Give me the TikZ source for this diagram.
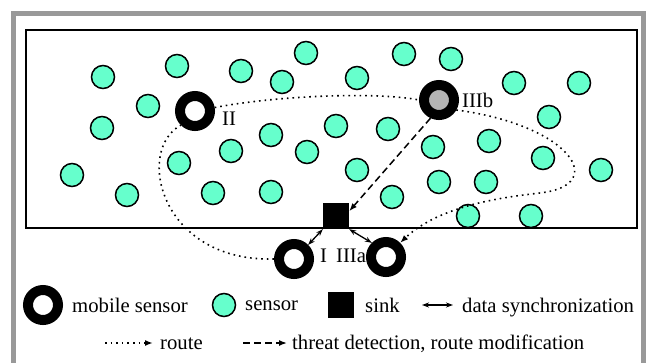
\documentclass[tikz,border=0pt]{standalone}
\usepackage{fontspec}
\setmainfont{Liberation Serif}
\usepackage{tikz}
\usetikzlibrary{arrows.meta,positioning}
\definecolor{sensorgreen}{RGB}{102,255,204}
\definecolor{framegray}{RGB}{153,153,153}
\definecolor{holegray}{RGB}{180,180,180}

\begin{document}
\begin{tikzpicture}[x=1pt,y=-1pt,
    font=\fontsize{20.7}{24}\selectfont,
    sensor/.style={circle,draw,line width=1.5pt,fill=sensorgreen,minimum size=23pt,inner sep=0pt},
    mobile/.style={circle,draw,line width=10pt,fill=white,minimum size=30pt,inner sep=0pt},
    sinkbox/.style={rectangle,fill=black,minimum size=26pt,inner sep=0pt},
    lbl/.style={inner sep=0pt},
    route/.style={line width=1.6pt,dash pattern=on 1.6pt off 4pt,-{Latex[length=8pt,width=6pt]}},
    threat/.style={line width=1.5pt,dash pattern=on 7pt off 4pt,-{Latex[length=8pt,width=6pt]}},
    sync/.style={line width=1.3pt,{Stealth[length=7pt,width=5pt]}-{Stealth[length=7pt,width=5pt]}}]
    \useasboundingbox (0,0) rectangle (646,362);

    % Frames
    \draw[framegray,line width=5pt] (13.5,13.5) rectangle (643.5,380);
    \draw[line width=1.5pt] (26,30) rectangle (637,228);

    % Static sensors
    \foreach \x/\y [count=\i] in {103/77, 177/66, 241/71, 306/53, 282/82, 148/106, 102/128,
        271/135, 231/151, 307/152, 179/163, 72/175, 127/195, 213/193, 271/192, 336/126,
        404/54, 451/59, 357/78, 514/83, 579/83, 549/117, 388/129, 489/141, 433/147,
        543/158, 601/170, 357/170, 439/182, 486/182, 392/197, 468/216, 531/216} {
        \node[sensor] (s\i) at (\x,\y) {};
    }

    % Sink and mobile sensors
    \node[sinkbox] (sink) at (336,216) {};
    \node[mobile] (I) at (294,259) {};
    \node[mobile] (II) at (195,111) {};
    \node[mobile,fill=holegray] (IIIb) at (439,100) {};
    \node[mobile] (IIIa) at (386,257) {};

    \node[lbl,anchor=west] (lI) at (320,256) {I};
    \node[lbl,anchor=west] (lII) at (222,119) {II};
    \node[lbl,right=3pt of IIIb] (lIIIb) {IIIb};
    \node[lbl,anchor=west] (lIIIa) at (336,256) {IIIa};

    % Route
    \draw[route] (I.west) .. controls (160,262) and (135,150) .. (II.south west)
        (II.10) .. controls (280,95) and (380,92) .. (IIIb.west)
        (IIIb.-30) .. controls (570,125) and (610,185) .. (540,193)
        .. controls (505,197) and (440,205) .. (IIIa.45);

    % Threat detection and data synchronization
    \draw[threat] (IIIb.-115) -- (sink.20);
    \draw[sync] (sink.south west) -- (I.north east);
    \draw[sync] (sink.south east) -- (IIIa.north west);

    % Legend
    \node[mobile] (kmobile) at (43,305) {};
    \node[lbl,anchor=base west] (tmobile) at (72,312) {mobile sensor};
    \node[sensor] (ksensor) at (224,305) {};
    \node[lbl,anchor=base west] (tsensor) at (245,310) {sensor};
    \node[sinkbox] (ksink) at (341,305) {};
    \node[lbl,anchor=base west] (tsink) at (365,312) {sink};
    \coordinate (ka) at (422,305);
    \coordinate (kb) at (453,305);
    \draw[sync] (ka) -- (kb);
    \node[lbl,anchor=base west] (tsync) at (462,312) {data synchronization};
    \coordinate (kc) at (105,343);
    \coordinate (kd) at (153,343);
    \draw[route] (kc) -- (kd);
    \node[lbl,anchor=base west] (troute) at (160,349) {route};
    \coordinate (ke) at (243,343);
    \coordinate (kf) at (287,343);
    \draw[threat] (ke) -- (kf);
    \node[lbl,anchor=base west] (tthreat) at (292,349) {threat detection, route modification};
\end{tikzpicture}
\end{document}
